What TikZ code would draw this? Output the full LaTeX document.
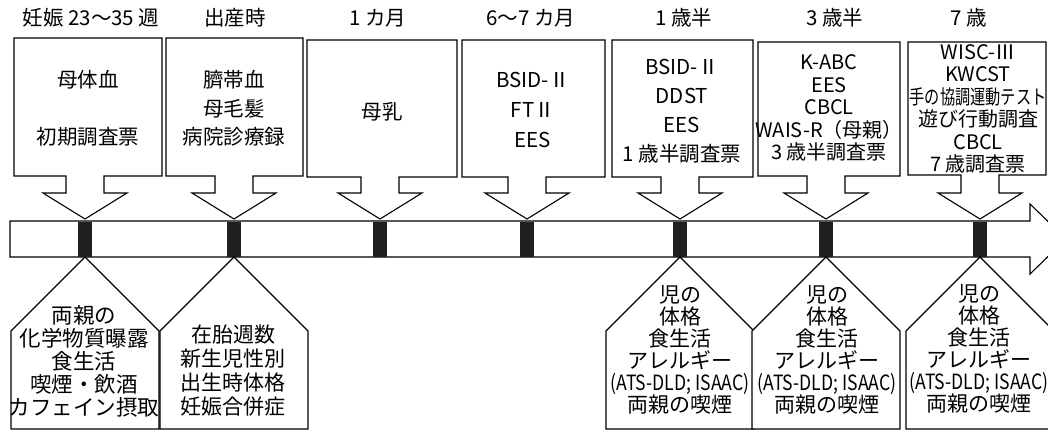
\documentclass[tikz,border=0pt]{standalone}
\usepackage{fontspec}
\setmainfont{Noto Sans CJK JP}
\newfontfamily\narrowfont[FakeStretch=0.76]{Noto Sans CJK JP}
\newfontfamily\condfont[FakeStretch=0.84]{Noto Sans CJK JP}
\tikzset{
  outline/.style={draw=black, line width=1.1pt, line join=miter, fill=white},
  lbl/.style={inner sep=0pt, font=\fontsize{20.5}{22}\selectfont},
  boxtext/.style={inner sep=0pt, align=center, font=\fontsize{20.5}{23}\selectfont},
  tighttext/.style={inner sep=0pt, align=center, font=\fontsize{20}{22.5}\selectfont},
  bottext/.style={inner sep=0pt, align=center, font=\fontsize{21.5}{23}\selectfont},
  tickmark/.style={fill=black!88, draw=none, minimum width=14pt, minimum height=35pt, inner sep=0pt}
}
% top box with downward arrow: L R T B cx
\newcommand\TopBox[5]{%
  \draw[outline] (#1,#3) -- (#2,#3) -- (#2,#4) -- ({#5+19},#4) -- ({#5+19},193)
    -- ({#5+42},193) -- (#5,219) -- ({#5-42},193) -- ({#5-19},193) -- ({#5-19},#4)
    -- (#1,#4) -- cycle;}
% bottom house shape with apex at cx
\newcommand\BotBox[1]{%
  \draw[outline] (#1,257) -- ({#1+74},331) -- ({#1+74},429) -- ({#1-74},429)
    -- ({#1-74},331) -- cycle;}
\begin{document}
\begin{tikzpicture}[x=1pt,y=-1pt]
\useasboundingbox (0,0) rectangle (1048,431);
\clip (0,0) rectangle (1048,431);
\fill[white] (0,0) rectangle (1048,431);

% timeline labels
\node[lbl] (l1) at (91,18) {妊娠 23～35 週};
\node[lbl] (l2) at (235,18) {出産時};
\node[lbl] (l3) at (378,18) {1 カ月};
\node[lbl] (l4) at (531,18) {6～7 カ月};
\node[lbl] (l5) at (684,18) {1 歳半};
\node[lbl] (l6) at (835,18) {3 歳半};
\node[lbl] (l7) at (969,18) {7 歳};

% timeline bar with arrow head
\draw[outline] (10,221) -- (1030,221) -- (1030,204) -- (1066,239) -- (1030,274)
  -- (1030,257) -- (10,257) -- cycle;

% markers
\node[tickmark] (m1) at (85,239) {};
\node[tickmark] (m2) at (234,239) {};
\node[tickmark] (m3) at (380,239) {};
\node[tickmark] (m4) at (527,239) {};
\node[tickmark] (m5) at (680,239) {};
\node[tickmark] (m6) at (826,239) {};
\node[tickmark] (m7) at (980,239) {};

% top boxes
\TopBox{14}{162}{38}{176}{85}
\TopBox{166}{303}{38}{176}{234}
\TopBox{307}{457}{40}{177}{380}
\TopBox{462}{605}{40}{177}{527}
\TopBox{612}{753}{40}{177}{680}
\TopBox{758}{900}{42}{176}{826}
\TopBox{908}{1046}{42}{175}{980}

\node[boxtext] (b1) at (88,108.5) {母体血\\[34pt]初期調査票};
\node[boxtext] (b2) at (234,108.5) {臍帯血\\[5.5pt]母毛髪\\[5.5pt]病院診療録};
\node[boxtext] (b3) at (382,112) {母乳};
\node[boxtext] (b4) at (533,110) {BSID-Ⅱ\\[7pt]FTⅡ\\[7pt]EES};
\node[boxtext] (b5) at (682,111.5) {BSID-Ⅱ\\[6pt]DDST\\[6pt]EES\\[6pt]1 歳半調査票};
\node[tighttext] (b6) at (829,108) {K-ABC\\EES\\CBCL\\WAIS-R（母親）\\3 歳半調査票};
\node[tighttext] (b7) at (978,109) {WISC-Ⅲ\\KWCST\\{\narrowfont 手の協調運動テスト}\\遊び行動調査\\CBCL\\7 歳調査票};

% bottom boxes
\BotBox{85}
\BotBox{234}
\BotBox{680}
\BotBox{826}
\BotBox{980}

\node[bottext] (c1) at (84,361) {両親の\\化学物質曝露\\食生活\\喫煙・飲酒\\カフェイン摂取};
\node[bottext, font=\fontsize{21}{24}\selectfont] (c2) at (233,371) {在胎週数\\新生児性別\\出生時体格\\妊娠合併症};
\node[bottext, font=\fontsize{21}{22}\selectfont] (c5) at (680,350) {児の\\体格\\食生活\\アレルギー\\{\condfont (ATS-DLD; ISAAC)}\\両親の喫煙};
\node[bottext, font=\fontsize{21}{22}\selectfont] (c6) at (827,350) {児の\\体格\\食生活\\アレルギー\\{\condfont (ATS-DLD; ISAAC)}\\両親の喫煙};
\node[bottext, font=\fontsize{21}{22}\selectfont] (c7) at (979,349) {児の\\体格\\食生活\\アレルギー\\{\condfont (ATS-DLD; ISAAC)}\\両親の喫煙};
\end{tikzpicture}
\end{document}
